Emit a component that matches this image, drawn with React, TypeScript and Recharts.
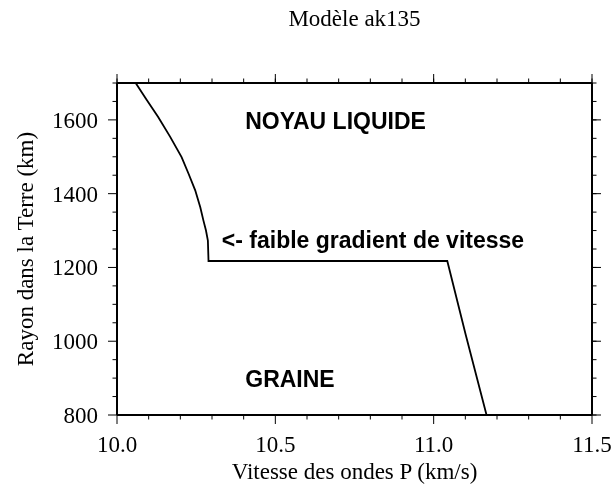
import React from 'react';
import { LineChart, Line, XAxis, YAxis, ReferenceDot, ReferenceLine, Customized } from 'recharts';

// Vp (km/s) versus radius (km), ak135 model
const velocity = [10.059, 10.094, 10.130, 10.168, 10.204, 10.226, 10.247, 10.263, 10.273, 10.281, 10.287, 10.289, 11.043, 11.101, 11.167];
const radius = [1700, 1654, 1608, 1554, 1499, 1454, 1409, 1363, 1327, 1300, 1273, 1217.5, 1217.5, 1018, 800];

const xTickValues = [10.0, 10.1, 10.2, 10.3, 10.4, 10.5, 10.6, 10.7, 10.8, 10.9, 11.0, 11.1, 11.2, 11.3, 11.4, 11.5];
const xMajorTicks = [10.0, 10.5, 11.0, 11.5];
const yTickValues = [800, 850, 900, 950, 1000, 1050, 1100, 1150, 1200, 1250, 1300, 1350, 1400, 1450, 1500, 1550, 1600, 1650, 1700];
const yMajorTicks = [800, 1000, 1200, 1400, 1600];
const X_DOMAIN = [10, 11.5];
const Y_DOMAIN = [800, 1700];

const titleText = 'Modèle ak135';
const xLabelText = 'Vitesse des ondes P (km/s)';
const yLabelText = 'Rayon dans la Terre (km)';

const annotationTexts = ['NOYAU LIQUIDE', '<- faible gradient de vitesse', 'GRAINE'];
const annotationX = [10.405, 10.331, 10.405];
const annotationY = [1575, 1254, 877];

const data = velocity.map((v, i) => ({ v, r: radius[i] }));

const W = 613;
const H = 484;
const M_LEFT = 117;
const M_RIGHT = 21;
const M_TOP = 83;
const M_BOTTOM = 69;
const PLOT_W = W - M_LEFT - M_RIGHT;
const PLOT_H = H - M_TOP - M_BOTTOM;
const SERIF = '"Liberation Serif", "Times New Roman", Times, serif';
const SANS = '"Liberation Sans", Arial, Helvetica, sans-serif';
const FS = 23;
const MAJOR = 9;
const MINOR = 4.5;
// tick lengths expressed in data units (for the outward major ticks on top / right edges)
const MAJOR_DY = (MAJOR * (Y_DOMAIN[1] - Y_DOMAIN[0])) / PLOT_H;
const MAJOR_DX = (MAJOR * (X_DOMAIN[1] - X_DOMAIN[0])) / PLOT_W;

const near = (list: number[], v: number) => list.some((m) => Math.abs(m - v) < 1e-6);

const BottomTick = (props: any) => {
  const x = Number(props.x);
  const y = Number(props.y);
  const value = Number(props.payload.value);
  const major = near(xMajorTicks, value);
  const len = major ? MAJOR : MINOR;
  return (
    <g>
      <line x1={x} x2={x} y1={y} y2={y + len} stroke="#000" strokeWidth={1} />
      {major && (
        <text x={x} y={y + 37} textAnchor="middle" fontFamily={SERIF} fontSize={FS} fill="#000">
          {value.toFixed(1)}
        </text>
      )}
    </g>
  );
};

const LeftTick = (props: any) => {
  const x = Number(props.x);
  const y = Number(props.y);
  const value = Number(props.payload.value);
  const major = near(yMajorTicks, value);
  const len = major ? MAJOR : MINOR;
  return (
    <g>
      <line x1={x} x2={x - len} y1={y} y2={y} stroke="#000" strokeWidth={1} />
      {major && (
        <text x={x - 19} y={y} dy="0.35em" textAnchor="end" fontFamily={SERIF} fontSize={FS} fill="#000">
          {value}
        </text>
      )}
    </g>
  );
};

const Texts = () => (
  <g>
    <text x={M_LEFT + PLOT_W / 2} y={26} textAnchor="middle" fontFamily={SERIF} fontSize={FS} fill="#000">
      {titleText}
    </text>
    <text x={M_LEFT + PLOT_W / 2} y={479} textAnchor="middle" fontFamily={SERIF} fontSize={FS} fill="#000">
      {xLabelText}
    </text>
    <text
      x={33}
      y={M_TOP + PLOT_H / 2}
      transform={`rotate(-90, 33, ${M_TOP + PLOT_H / 2})`}
      textAnchor="middle"
      fontFamily={SERIF}
      fontSize={FS}
      fill="#000"
    >
      {yLabelText}
    </text>
  </g>
);

const axisLineStyle = { stroke: '#000', strokeWidth: 2 };
const tickLineStyle = { stroke: '#000', strokeWidth: 1 };
const blank = () => '';

export default function App() {
  return (
    <div style={{ position: 'fixed', left: 0, top: 0 }}>
      <LineChart width={W} height={H} data={data} margin={{ top: 0, right: 0, bottom: 0, left: 0 }}>
        <XAxis
          xAxisId="bottom"
          dataKey="v"
          type="number"
          domain={X_DOMAIN}
          ticks={xTickValues}
          interval={0}
          orientation="bottom"
          height={M_BOTTOM}
          tickSize={0}
          tickMargin={0}
          tickLine={false}
          axisLine={axisLineStyle}
          tick={<BottomTick />}
        />
        <XAxis
          xAxisId="top"
          dataKey="v"
          type="number"
          domain={X_DOMAIN}
          ticks={xTickValues}
          interval={0}
          orientation="top"
          height={M_TOP}
          tickSize={MINOR}
          tickLine={tickLineStyle}
          tickFormatter={blank}
          axisLine={axisLineStyle}
        />
        <YAxis
          yAxisId="left"
          type="number"
          domain={Y_DOMAIN}
          ticks={yTickValues}
          interval={0}
          orientation="left"
          width={M_LEFT}
          tickSize={0}
          tickMargin={0}
          tickLine={false}
          axisLine={axisLineStyle}
          tick={<LeftTick />}
        />
        <YAxis
          yAxisId="right"
          type="number"
          domain={Y_DOMAIN}
          ticks={yTickValues}
          interval={0}
          orientation="right"
          width={M_RIGHT}
          tickSize={MINOR}
          tickLine={tickLineStyle}
          tickFormatter={blank}
          axisLine={axisLineStyle}
        />
        <Line
          xAxisId="top"
          yAxisId="right"
          dataKey="r"
          type="linear"
          stroke="none"
          strokeWidth={0}
          dot={false}
          activeDot={false}
          isAnimationActive={false}
        />
        <Line
          xAxisId="bottom"
          yAxisId="left"
          dataKey="r"
          type="linear"
          stroke="#000"
          strokeWidth={1.8}
          dot={false}
          activeDot={false}
          isAnimationActive={false}
        />
        {xMajorTicks.map((v) => (
          <ReferenceLine
            key={`tx${v}`}
            xAxisId="bottom"
            yAxisId="left"
            ifOverflow="visible"
            segment={[
              { x: v, y: Y_DOMAIN[1] },
              { x: v, y: Y_DOMAIN[1] + MAJOR_DY },
            ]}
            stroke="#000"
            strokeWidth={1}
          />
        ))}
        {yMajorTicks.map((r) => (
          <ReferenceLine
            key={`ty${r}`}
            xAxisId="bottom"
            yAxisId="left"
            ifOverflow="visible"
            segment={[
              { x: X_DOMAIN[1], y: r },
              { x: X_DOMAIN[1] + MAJOR_DX, y: r },
            ]}
            stroke="#000"
            strokeWidth={1}
          />
        ))}
        {annotationTexts.map((t, i) => (
          <ReferenceDot
            key={t}
            xAxisId="bottom"
            yAxisId="left"
            x={annotationX[i]}
            y={annotationY[i]}
            r={0}
            fill="none"
            stroke="none"
            label={(p: any) => (
              <text
                x={p.viewBox.x + (p.viewBox.width || 0) / 2}
                y={p.viewBox.y + (p.viewBox.height || 0) / 2}
                textAnchor="start"
                fontFamily={SANS}
                fontWeight="bold"
                fontSize={FS}
                fill="#000"
              >
                {t}
              </text>
            )}
          />
        ))}
        <Customized component={Texts} />
      </LineChart>
    </div>
  );
}
